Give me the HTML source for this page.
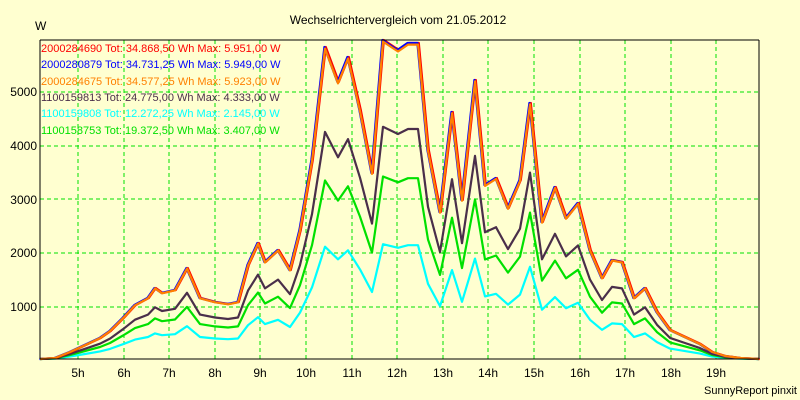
<!DOCTYPE html>
<html><head><meta charset="utf-8"><style>
html,body{margin:0;padding:0;background:#FFFFD0;}
svg{display:block;font-family:"Liberation Sans",sans-serif;}
</style></head><body>
<svg id="s" width="800" height="400" xmlns="http://www.w3.org/2000/svg">
<rect width="800" height="400" fill="#FFFFD0"/>
<g id="grid" stroke="#00E000" stroke-width="1" stroke-dasharray="4,3"></g>
<g id="lines" fill="none" stroke-width="2.2" stroke-linejoin="round"></g>
<line x1="40" y1="40" x2="759" y2="40" stroke="#000"/>
<line x1="40" y1="40" x2="40" y2="359" stroke="#000"/>
<line x1="40" y1="359" x2="759" y2="359" stroke="#000"/>
<line x1="759" y1="40" x2="759" y2="359" stroke="#000"/>
<text x="398" y="24" font-size="12" text-anchor="middle">Wechselrichtervergleich vom 21.05.2012</text>
<text x="35" y="30" font-size="12">W</text>
<g font-size="12" text-anchor="end">
<text x="37" y="96">5000</text><text x="37" y="150">4000</text><text x="37" y="204">3000</text><text x="37" y="257">2000</text><text x="37" y="311">1000</text>
</g>
<g id="hl" font-size="12" text-anchor="middle"></g>
<text x="797" y="394" font-size="11" text-anchor="end">SunnyReport pinxit</text>
<g font-size="11">
<text x="41" y="52" fill="#FF0000">2000284690 Tot: 34.868,50 Wh Max: 5.951,00 W</text>
<text x="41" y="68" fill="#0000FF">2000280879 Tot: 34.731,25 Wh Max: 5.949,00 W</text>
<text x="41" y="85" fill="#FF8000">2000284675 Tot: 34.577,25 Wh Max: 5.923,00 W</text>
<text x="41" y="101" fill="#4A2F4A">1100159813 Tot: 24.775,00 Wh Max: 4.333,00 W</text>
<text x="41" y="117" fill="#00FFFF">1100159808 Tot: 12.272,25 Wh Max: 2.145,00 W</text>
<text x="41" y="134" fill="#00E000">1100158753 Tot: 19.372,50 Wh Max: 3.407,00 W</text>
</g>
</svg>
<script>
var ns="http://www.w3.org/2000/svg";
var g=document.getElementById("grid"),hl=document.getElementById("hl"),L=document.getElementById("lines");
function el(p,t,a){var e=document.createElementNS(ns,t);for(var k in a)e.setAttribute(k,a[k]);p.appendChild(e);return e;}
[307,253,199,146,92].forEach(function(y){el(g,"line",{x1:40,x2:759,y1:y,y2:y});});
for(var h=5;h<=19;h++){var x=Math.round(78+(h-5)*45.6);el(g,"line",{x1:x,x2:x,y1:40,y2:359});var t=el(hl,"text",{x:x,y:377});t.textContent=h+"h";}
var P=[[40,359],[55,358],[70,352],[85,345],[100,338],[110,331],[123,318],[135,305],[148,298],[155,288],[162,293],[175,290],[187,268],[200,298],[215,302],[228,304],[238,302],[248,265],[258,243],[265,262],[278,250],[290,270],[300,230],[312,160],[325,47],[338,82],[348,57],[360,110],[372,173],[383,40],[398,50],[408,43],[418,43],[428,150],[440,212],[452,112],[462,200],[475,80],[485,185],[496,178],[508,208],[520,180],[530,103],[542,222],[555,187],[566,218],[578,203],[590,250],[602,278],[612,260],[622,262],[634,298],[645,288],[657,312],[670,330],[685,337],[700,344],[712,352],[725,356],[740,358],[759,359]];
function pts(k,dx){return P.map(function(p){return (p[0]+dx)+","+(359-(359-p[1])*k).toFixed(1);}).join(" ");}
el(L,"polyline",{points:pts(0.36,0),stroke:"#00FFFF"});
el(L,"polyline",{points:pts(0.572,0),stroke:"#00E000"});
el(L,"polyline",{points:pts(0.728,0),stroke:"#4A2F4A"});
el(L,"polyline",{points:pts(1.0,0.8),stroke:"#FF0000"});
el(L,"polyline",{points:pts(1.0,-0.6),stroke:"#0000FF"});
el(L,"polyline",{points:pts(0.995,0),stroke:"#FF8000"});
</script>
</body></html>
